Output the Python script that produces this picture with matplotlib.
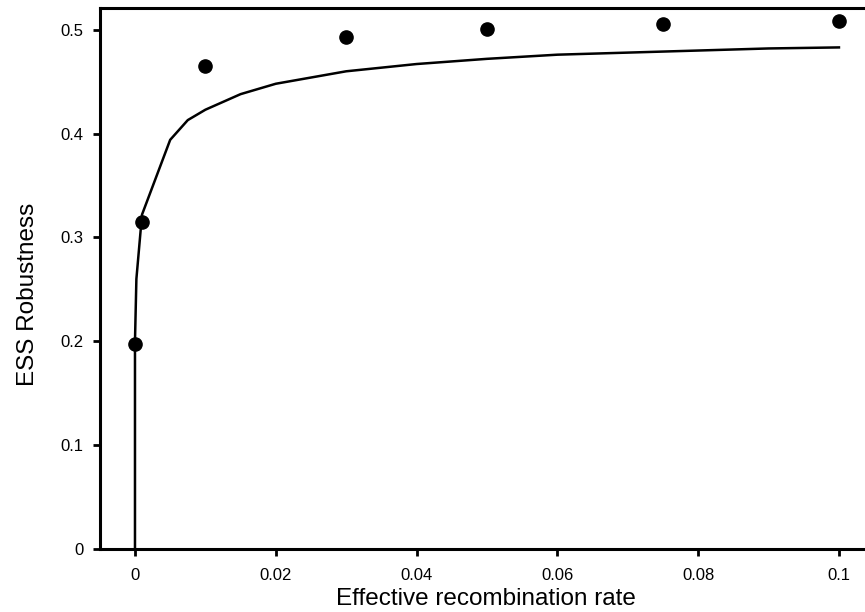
import numpy as np
import matplotlib.pyplot as plt

plt.rcParams['font.family'] = ['Liberation Sans', 'DejaVu Sans']

# simulated ESS robustness (dots)
rec_sim = [0.0, 0.001, 0.01, 0.03, 0.05, 0.075, 0.1]
rob_sim = [0.197, 0.315, 0.465, 0.493, 0.501, 0.506, 0.508]

# analytic curve (line)
rec_model = [0.0, 0.0, 0.0002, 0.001, 0.005, 0.0075, 0.01, 0.015, 0.02, 0.03,
             0.04, 0.05, 0.06, 0.07, 0.08, 0.09, 0.1]
rob_model = [0.0, 0.20, 0.26, 0.322, 0.394, 0.413, 0.423, 0.438, 0.448, 0.460,
             0.467, 0.472, 0.476, 0.478, 0.480, 0.482, 0.483]

xticks = [0, 0.02, 0.04, 0.06, 0.08, 0.1]
xticklabels = ['0', '0.02', '0.04', '0.06', '0.08', '0.1']
yticks = [0, 0.1, 0.2, 0.3, 0.4, 0.5]
yticklabels = ['0', '0.1', '0.2', '0.3', '0.4', '0.5']

fig = plt.figure(figsize=(8.65, 6.12), dpi=100)
ax = fig.add_axes([0.1156, 0.103, 0.8844, 0.884])

ax.plot(rec_model, rob_model, color='black', lw=1.8, solid_joinstyle='round')
ax.plot(rec_sim, rob_sim, 'o', color='black', markersize=9.5)

ax.set_xlim(-0.00497, 0.1037)
ax.set_ylim(0, 0.521)
ax.set_xticks(xticks)
ax.set_xticklabels(xticklabels)
ax.set_yticks(yticks)
ax.set_yticklabels(yticklabels)

for side in ['left', 'bottom', 'top']:
    ax.spines[side].set_linewidth(2.2)
ax.spines['right'].set_visible(False)
ax.tick_params(direction='out', length=5, width=2, labelsize=12)
ax.tick_params(axis='x', pad=9)
ax.tick_params(axis='y', pad=7)

ax.set_xlabel('Effective recombination rate', fontsize=17.5)
ax.xaxis.set_label_coords(0.505, -0.073)
ax.set_ylabel('ESS Robustness', fontsize=17.5)
ax.yaxis.set_label_coords(-0.08, 0.47)

fig.savefig('out.png', dpi=100)
